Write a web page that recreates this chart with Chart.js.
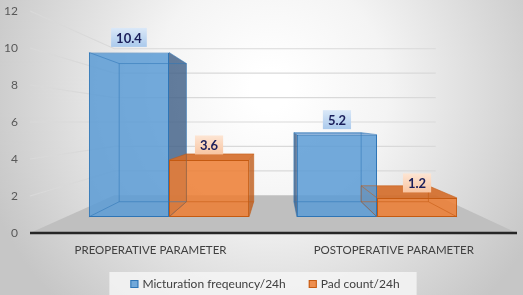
<!DOCTYPE html>
<html>
<head>
<meta charset="utf-8">
<script src="https://cdn.jsdelivr.net/npm/chart.js@4.4.1/dist/chart.umd.min.js"></script>
<style>
  body { margin: 0; }
  #wrap { width: 523px; height: 295px; }
</style>
</head>
<body>
<div id="wrap"><canvas id="paramChart"></canvas></div>
<script>
const categories = ["PREOPERATIVE PARAMETER", "POSTOPERATIVE PARAMETER"];
const seriesNames = ["Micturation freqeuncy/24h", "Pad count/24h"];
const micturationValues = [10.4, 5.2];
const padCountValues = [3.6, 1.2];
const yTickValues = [0, 2, 4, 6, 8, 10, 12];

// fake 3d: everything shrinks toward a vanishing point
const FRONT_K = 0.145; // bar front face depth
const BAR_DEPTH = 0.16; // bar back face = front + (vp - front) * BAR_DEPTH
const FLOOR_K = 0.34; // back wall depth

const yMax = yTickValues[yTickValues.length - 1];
const yMid = yMax / 2;
const barMin = (-yMid * FRONT_K) / (1 - FRONT_K);
const barMax = (yMax - yMid * FRONT_K) / (1 - FRONT_K);

const faceColors = [
  { side: "rgba(60,92,132,0.8)", top: "rgba(82,140,200,0.8)", edge: "rgba(46,117,182,0.55)", label: ["#dce9f8", "#a9c9ec"] },
  { side: "rgba(190,92,28,0.8)", top: "rgba(212,108,40,0.9)", edge: "rgba(197,90,17,0.55)", label: ["#fde6d5", "#f8c4a0"] },
];

function vanish(chart) {
  const ca = chart.chartArea;
  return [(ca.left + ca.right) / 2 + 5, chart.scales.yTicks.getPixelForValue(yMid)];
}

function toward(p, vp, k) {
  return [p[0] + (vp[0] - p[0]) * k, p[1] + (vp[1] - p[1]) * k];
}

function poly(ctx, pts) {
  ctx.beginPath();
  ctx.moveTo(pts[0][0], pts[0][1]);
  for (let i = 1; i < pts.length; i++) ctx.lineTo(pts[i][0], pts[i][1]);
  ctx.closePath();
}

function boxOf(bar, vp) {
  const p = bar.getProps(["x", "y", "base", "width"], true);
  const L = p.x - p.width / 2, R = p.x + p.width / 2;
  const T = Math.min(p.y, p.base), B = Math.max(p.y, p.base);
  const f = [[L, T], [R, T], [R, B], [L, B]];
  const b = f.map((c) => toward(c, vp, BAR_DEPTH));
  return { f, b, L, R, T, B, cx: p.x };
}

const scene = {
  id: "scene",
  beforeDraw(chart) {
    const { ctx, width, height } = chart;
    const g = ctx.createRadialGradient(270, 90, 20, 270, 90, 300);
    g.addColorStop(0, "#ffffff");
    g.addColorStop(0.35, "#f4f4f4");
    g.addColorStop(1, "#c6c6c6");
    ctx.save();
    ctx.fillStyle = g;
    ctx.fillRect(0, 0, width, height);
    ctx.restore();
  },
  beforeDatasetsDraw(chart) {
    const { ctx, chartArea: ca } = chart;
    const yt = chart.scales.yTicks;
    const vp = vanish(chart);
    const fl = ca.left - 35, fr = ca.right + 36;
    const fb = yt.getPixelForValue(0);
    ctx.save();

    // floor
    const floor = [[fl, fb], [fr, fb], toward([fr, fb], vp, FLOOR_K), toward([fl, fb], vp, FLOOR_K)];
    poly(ctx, floor);
    ctx.fillStyle = "#bfbfbf";
    ctx.fill();

    // grid: left wall diagonal + back wall horizontal
    ctx.strokeStyle = "#d9d9d9";
    ctx.lineWidth = 1.2;
    yTickValues.slice(1).forEach((v) => {
      const y = yt.getPixelForValue(v);
      const back = toward([fl, y], vp, FLOOR_K);
      const backR = toward([fr, y], vp, FLOOR_K);
      ctx.beginPath();
      ctx.moveTo(fl, y);
      ctx.lineTo(back[0], back[1]);
      ctx.lineTo(backR[0], back[1]);
      ctx.stroke();
    });

    // visible side / top faces of each bar
    chart.data.datasets.forEach((ds, di) => {
      const col = faceColors[di];
      chart.getDatasetMeta(di).data.forEach((bar) => {
        const { f, b, L, R, T } = boxOf(bar, vp);
        if (R < vp[0]) {
          poly(ctx, [f[1], b[1], b[2], f[2]]);
          ctx.fillStyle = col.side;
          ctx.fill();
        }
        if (L > vp[0]) {
          poly(ctx, [f[0], b[0], b[3], f[3]]);
          ctx.fillStyle = col.side;
          ctx.fill();
        }
        if (T > vp[1]) {
          poly(ctx, [f[0], f[1], b[1], b[0]]);
          ctx.fillStyle = col.top;
          ctx.fill();
        }
      });
    });

    // floor front edge
    ctx.strokeStyle = "#262626";
    ctx.lineWidth = 2.5;
    ctx.beginPath();
    ctx.moveTo(fl, fb);
    ctx.lineTo(fr, fb);
    ctx.stroke();
    ctx.restore();
  },
  afterDatasetsDraw(chart) {
    const { ctx } = chart;
    const vp = vanish(chart);
    const xs = chart.scales.x;
    ctx.save();

    // box edges, seen through the transparent faces
    chart.data.datasets.forEach((ds, di) => {
      ctx.strokeStyle = faceColors[di].edge;
      ctx.lineWidth = 1;
      chart.getDatasetMeta(di).data.forEach((bar) => {
        const { f, b } = boxOf(bar, vp);
        poly(ctx, b);
        ctx.stroke();
        for (let i = 0; i < 4; i++) {
          ctx.beginPath();
          ctx.moveTo(f[i][0], f[i][1]);
          ctx.lineTo(b[i][0], b[i][1]);
          ctx.stroke();
        }
      });
    });

    // data labels
    ctx.font = "bold 13px Lato";
    ctx.textAlign = "center";
    ctx.textBaseline = "middle";
    chart.data.datasets.forEach((ds, di) => {
      chart.getDatasetMeta(di).data.forEach((bar, i) => {
        const { cx, T } = boxOf(bar, vp);
        const txt = String(ds.data[i]);
        const w = ctx.measureText(txt).width + 10;
        const cy = T - 15;
        const g = ctx.createLinearGradient(0, cy - 10, 0, cy + 10);
        g.addColorStop(0, faceColors[di].label[0]);
        g.addColorStop(1, faceColors[di].label[1]);
        ctx.fillStyle = g;
        ctx.fillRect(cx - w / 2, cy - 9.5, w, 19);
        ctx.fillStyle = "#1b1f5a";
        ctx.fillText(txt, cx, cy + 1);
      });
    });

    // category labels on the floor front
    ctx.font = "11.5px Lato";
    ctx.fillStyle = "#404040";
    categories.forEach((c, i) => {
      const x = xs.getPixelForValue(i);
      const fx = vp[0] + (x - vp[0]) / (1 - FRONT_K);
      ctx.fillText(c, fx, 250);
    });
    ctx.restore();
  },
  afterDraw(chart) {
    const { ctx, chartArea: ca } = chart;
    ctx.save();
    ctx.font = "12px Lato";
    const items = chart.data.datasets.map((ds) => ({
      text: ds.label,
      fill: ds.backgroundColor,
      border: ds.borderColor,
      w: 12 + ctx.measureText(ds.label).width,
    }));
    const gap = 23;
    const total = items.reduce((s, it) => s + it.w, 0) + gap * (items.length - 1);
    let x = (ca.left + ca.right) / 2 - 8 - total / 2;
    const cy = 284;
    ctx.fillStyle = "rgba(244,244,244,0.85)";
    ctx.fillRect(x - 21, 272, total + 38, 23);
    ctx.textAlign = "left";
    ctx.textBaseline = "middle";
    items.forEach((it) => {
      ctx.fillStyle = it.fill;
      ctx.fillRect(x, cy - 4, 8, 8);
      ctx.strokeStyle = it.border;
      ctx.lineWidth = 1;
      ctx.strokeRect(x + 0.5, cy - 3.5, 7, 7);
      ctx.fillStyle = "#404040";
      ctx.fillText(it.text, x + 12, cy);
      x += it.w + gap;
    });
    ctx.restore();
  },
};

new Chart(document.getElementById("paramChart"), {
  type: "bar",
  data: {
    labels: categories,
    datasets: [
      {
        label: seriesNames[0],
        data: micturationValues,
        backgroundColor: "rgba(91,155,213,0.85)",
        borderColor: "#2e75b6",
        borderWidth: 1,
        borderSkipped: false,
      },
      {
        label: seriesNames[1],
        data: padCountValues,
        backgroundColor: "rgba(237,125,49,0.85)",
        borderColor: "#c55a11",
        borderWidth: 1,
        borderSkipped: false,
      },
    ],
  },
  options: {
    responsive: true,
    maintainAspectRatio: false,
    animation: false,
    layout: { padding: { left: 0, right: 42, top: 11, bottom: 62 } },
    datasets: { bar: { categoryPercentage: 0.77, barPercentage: 1 } },
    plugins: {
      legend: { display: false },
      tooltip: { enabled: false },
    },
    scales: {
      x: { display: false },
      y: { display: false, min: barMin, max: barMax },
      yTicks: {
        type: "linear",
        position: "left",
        min: yTickValues[0],
        max: yMax,
        ticks: {
          stepSize: yTickValues[1] - yTickValues[0],
          padding: 47,
          color: "#595959",
          font: { family: "Lato", size: 12 },
        },
        grid: { display: false, drawTicks: false },
        border: { display: false },
        afterFit(scale) {
          scale.width = 65;
          scale.paddingTop = 0;
          scale.paddingBottom = 0;
        },
      },
    },
  },
  plugins: [scene],
});
</script>
</body>
</html>
